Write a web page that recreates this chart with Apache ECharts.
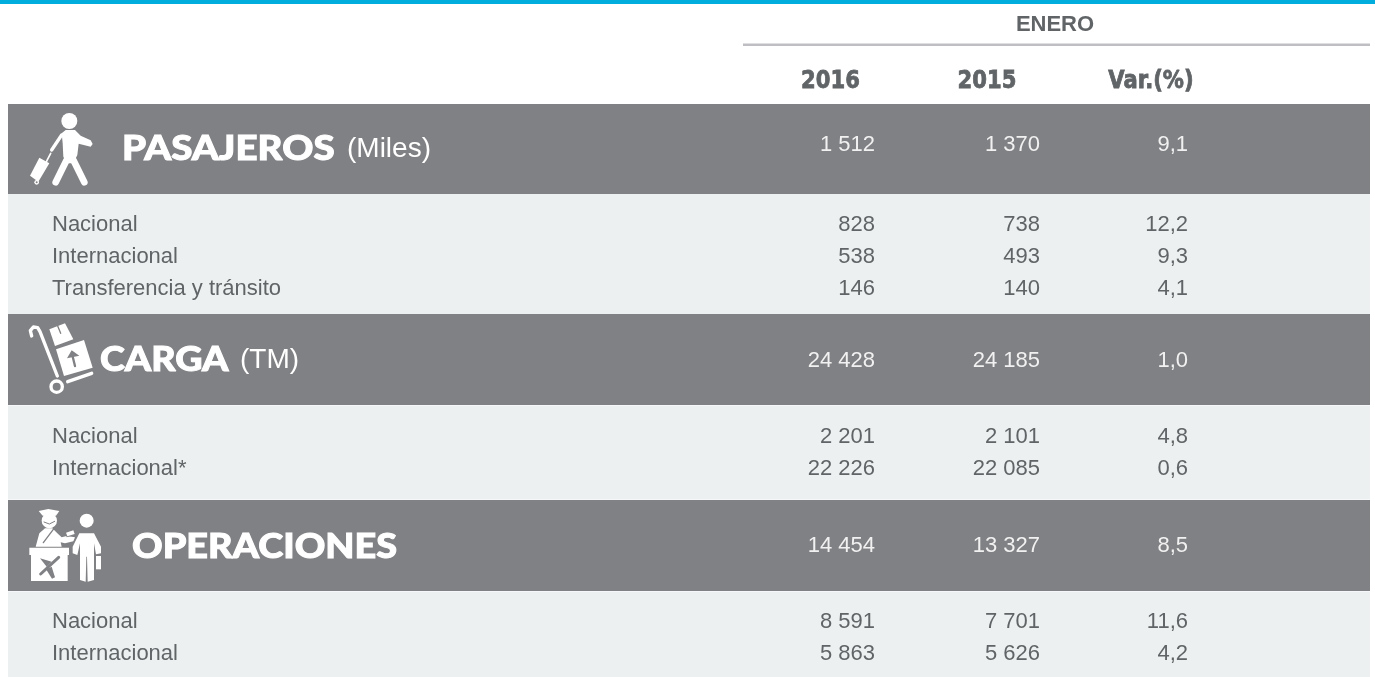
<!DOCTYPE html>
<html>
<head>
<meta charset="utf-8">
<title>Enero</title>
<script src="https://cdn.jsdelivr.net/npm/echarts@6/dist/echarts.min.js"></script>
<style>
  html, body { margin: 0; padding: 0; background: #fff; }
  #chart { width: 1375px; height: 677px; }
</style>
</head>
<body>
<div id="chart"></div>
<script>
// Table data
const periodLabel = 'ENERO';
const columnLabels = ['2016', '2015', 'Var.(%)'];
const rowLabels = ['PASAJEROS', 'Nacional', 'Internacional', 'Transferencia y tránsito',
    'CARGA', 'Nacional', 'Internacional*',
    'OPERACIONES', 'Nacional', 'Internacional'];
const values2016 = [1512, 828, 538, 146, 24428, 2201, 22226, 14454, 8591, 5863];
const values2015 = [1370, 738, 493, 140, 24185, 2101, 22085, 13327, 7701, 5626];
const variation = [9.1, 12.2, 9.3, 4.1, 1.0, 4.8, 0.6, 8.5, 11.6, 4.2];
const headingUnits = { PASAJEROS: '(Miles)', CARGA: '(TM)', OPERACIONES: '' };

// Layout, in page pixels (the hidden axes run 1:1 with the page)
const rowCenters = [145, 225, 257, 289, 361, 437, 469, 546, 622, 654];
const headingX = { PASAJEROS: 122, CARGA: 100, OPERACIONES: 132 };
const headingY = { PASAJEROS: 149, CARGA: 360, OPERACIONES: 547 };
const headingScale = { PASAJEROS: 1.1, CARGA: 1.075, OPERACIONES: 1.08 };
const unitX = { PASAJEROS: 347, CARGA: 240, OPERACIONES: 0 };
const columnRight = [875, 1040, 1188];
const columnCenter = [830.5, 987, 1151];
const bands = [
    [104, 194, '#808184'], [194, 314, '#ecf0f1'],
    [314, 405, '#808184'], [405.5, 499.5, '#ecf0f1'],
    [500, 591, '#808184'], [591.5, 677, '#ecf0f1']
];

const GREY = '#808184';
const TEXT = '#606466';
const BODY_FONT = '"Liberation Sans", Arial, sans-serif';
const HEAD_FONT = 'Lato, "Open Sans", sans-serif';

function thousands(v) {
    return String(v).replace(/\B(?=(\d{3})+$)/g, ' ');
}

function renderBand(params, api) {
    const p0 = api.coord([8, api.value(0)]);
    const p1 = api.coord([1370, api.value(1)]);
    return {
        type: 'rect',
        shape: { x: p0[0], y: p0[1], width: p1[0] - p0[0], height: p1[1] - p0[1] },
        style: { fill: bands[params.dataIndex][2] }
    };
}

function renderRow(params, api) {
    const i = params.dataIndex;
    const label = rowLabels[i];
    const isHeading = label in headingUnits;
    const y = api.coord([0, rowCenters[i]])[1];
    const children = [];

    if (isHeading) {
        const hy = api.coord([0, headingY[label]])[1];
        children.push({
            type: 'text',
            x: api.coord([headingX[label], 0])[0],
            y: hy,
            scaleX: headingScale[label],
            style: {
                text: label, x: 0, y: 0, fill: '#fff', stroke: '#fff', lineWidth: 1,
                align: 'left', verticalAlign: 'middle',
                font: '900 35px ' + HEAD_FONT
            }
        });
        if (headingUnits[label]) {
            children.push({
                type: 'text',
                style: {
                    text: headingUnits[label], x: api.coord([unitX[label], 0])[0], y: hy,
                    fill: '#fff', align: 'left', verticalAlign: 'middle',
                    font: '28px ' + BODY_FONT
                }
            });
        }
    } else {
        children.push({
            type: 'text',
            style: {
                text: label, x: api.coord([52, 0])[0], y: y, fill: TEXT, align: 'left', verticalAlign: 'middle',
                font: '22px ' + BODY_FONT
            }
        });
    }

    const cells = [thousands(values2016[i]), thousands(values2015[i]), variation[i].toFixed(1).replace('.', ',')];
    cells.forEach((txt, c) => {
        children.push({
            type: 'text',
            style: {
                text: txt, x: api.coord([columnRight[c], 0])[0], y: y,
                fill: isHeading ? '#f1f1f2' : TEXT, align: 'right', verticalAlign: 'middle',
                font: '22px ' + BODY_FONT
            }
        });
    });
    return { type: 'group', children: children };
}

function renderColumnHead(params, api) {
    const c = params.dataIndex;
    const pos = api.coord([columnCenter[c], 81.5]);
    return {
        type: 'text',
        x: pos[0],
        y: pos[1],
        scaleX: 0.88,
        style: {
            text: columnLabels[c], x: 0, y: 0, fill: TEXT, stroke: TEXT, lineWidth: 0.8,
            align: 'center', verticalAlign: 'middle',
            font: 'bold 24px "DejaVu Sans", sans-serif'
        }
    };
}

// Icons are plain decoration, drawn in 3x local units inside a scaled group
const ICON_Z = 5;
function line(points, width, color) {
    return {
        type: 'polyline', z: ICON_Z,
        shape: { points: points },
        style: { stroke: color || '#fff', lineWidth: width, fill: null, lineCap: 'round', lineJoin: 'round' }
    };
}
function poly(points, color) {
    return { type: 'polygon', z: ICON_Z, shape: { points: points }, style: { fill: color || '#fff' } };
}
function dot(cx, cy, r, color) {
    return { type: 'circle', z: ICON_Z, shape: { cx: cx, cy: cy, r: r }, style: { fill: color || '#fff' } };
}

const walkerIcon = [
    dot(148, 48, 24),
    poly([[125, 85], [137, 75], [165, 75], [182, 92], [212, 106], [218, 117], [212, 125], [176, 116], [172, 150],
        [160, 175], [140, 175], [130, 155], [128, 115]]),
    line([[125, 90], [95, 135]], 10),
    line([[140, 165], [107, 232]], 20),
    line([[160, 165], [193, 232]], 20),
    poly([[58, 158], [88, 175], [55, 230], [30, 212]]),
    line([[92, 145], [78, 172]], 5),
    dot(50, 232, 7),
    dot(50, 232, 3, GREY)
];

const cartIcon = [
    line([[35, 60], [31, 44], [40, 33], [53, 35], [60, 47], [112, 180]], 10),
    line([[143, 197], [215, 172]], 10),
    { type: 'circle', z: ICON_Z, shape: { cx: 110, cy: 212, r: 17 }, style: { stroke: '#fff', lineWidth: 10, fill: null } },
    poly([[88, 40], [135, 22], [160, 70], [105, 90]]),
    line([[113, 30], [122, 52]], 4, GREY),
    poly([[108, 100], [192, 72], [218, 155], [132, 180]]),
    line([[165, 150], [157, 118]], 7, GREY),
    poly([[141, 127], [155, 103], [178, 119]], GREY)
];

const officerIcon = [
    poly([[56, 33], [85, 27], [118, 33], [108, 47], [68, 47]]),
    dot(88, 62, 23),
    line([[72, 66], [88, 72], [104, 64]], 3, GREY),
    poly([[47, 140], [58, 100], [75, 85], [97, 85], [112, 100], [125, 112], [140, 108], [165, 112], [160, 124],
        [135, 130], [122, 127], [125, 140]]),
    line([[100, 88], [70, 128]], 4, GREY),
    poly([[135, 96], [162, 88], [167, 104], [140, 112]], GREY),
    poly([[138, 98], [160, 91], [164, 102], [142, 109]]),
    poly([[28, 143], [147, 143], [147, 165], [143, 165], [143, 243], [33, 243], [33, 165], [28, 165]]),
    line([[62, 222], [116, 172]], 9, GREY),
    poly([[60, 175], [95, 185], [80, 200]], GREY),
    poly([[78, 208], [95, 200], [105, 232], [96, 236]], GREY),
    dot(200, 62, 21),
    poly([[178, 100], [222, 100], [243, 140], [243, 160], [228, 163], [222, 130], [222, 240], [203, 245], [201, 170],
        [199, 170], [197, 245], [180, 240], [180, 130], [172, 165], [158, 160], [158, 140]]),
    poly([[228, 168], [243, 168], [243, 208], [228, 208]])
];

function iconGroup(x, y, children) {
    return { type: 'group', x: x, y: y, scaleX: 1 / 3, scaleY: 1 / 3, children: children };
}

const chart = echarts.init(document.getElementById('chart'));

chart.setOption({
    animation: false,
    backgroundColor: '#fff',
    grid: { left: 0, right: 0, top: 0, bottom: 0 },
    xAxis: { type: 'value', min: 0, max: 1375, show: false },
    yAxis: { type: 'value', min: 0, max: 677, inverse: true, show: false },
    graphic: [
        { type: 'rect', shape: { x: 0, y: 0, width: 1375, height: 4 }, style: { fill: '#00addc' }, z: 5 },
        { type: 'rect', shape: { x: 743, y: 43.5, width: 627, height: 2.5 }, style: { fill: '#bfbfc3' }, z: 5 },
        {
            type: 'text', x: 1055, y: 24.5, z: 5,
            style: {
                text: periodLabel, fill: TEXT, align: 'center', verticalAlign: 'middle',
                font: 'bold 22px ' + BODY_FONT
            }
        },
        iconGroup(20, 105, walkerIcon),
        iconGroup(20, 316, cartIcon),
        iconGroup(20, 500, officerIcon)
    ],
    series: [
        {
            type: 'custom',
            renderItem: renderBand,
            data: bands.map(b => [b[0], b[1]]),
            encode: { x: -1, y: [0, 1] },
            silent: true,
            z: 1
        },
        {
            type: 'custom',
            renderItem: renderRow,
            data: rowLabels.map((l, i) => [i, rowCenters[i]]),
            encode: { x: -1, y: 1 },
            silent: true,
            z: 2
        },
        {
            type: 'custom',
            renderItem: renderColumnHead,
            data: columnLabels.map((l, i) => [i, 81.5]),
            encode: { x: -1, y: 1 },
            silent: true,
            z: 2
        }
    ]
});
</script>
</body>
</html>
